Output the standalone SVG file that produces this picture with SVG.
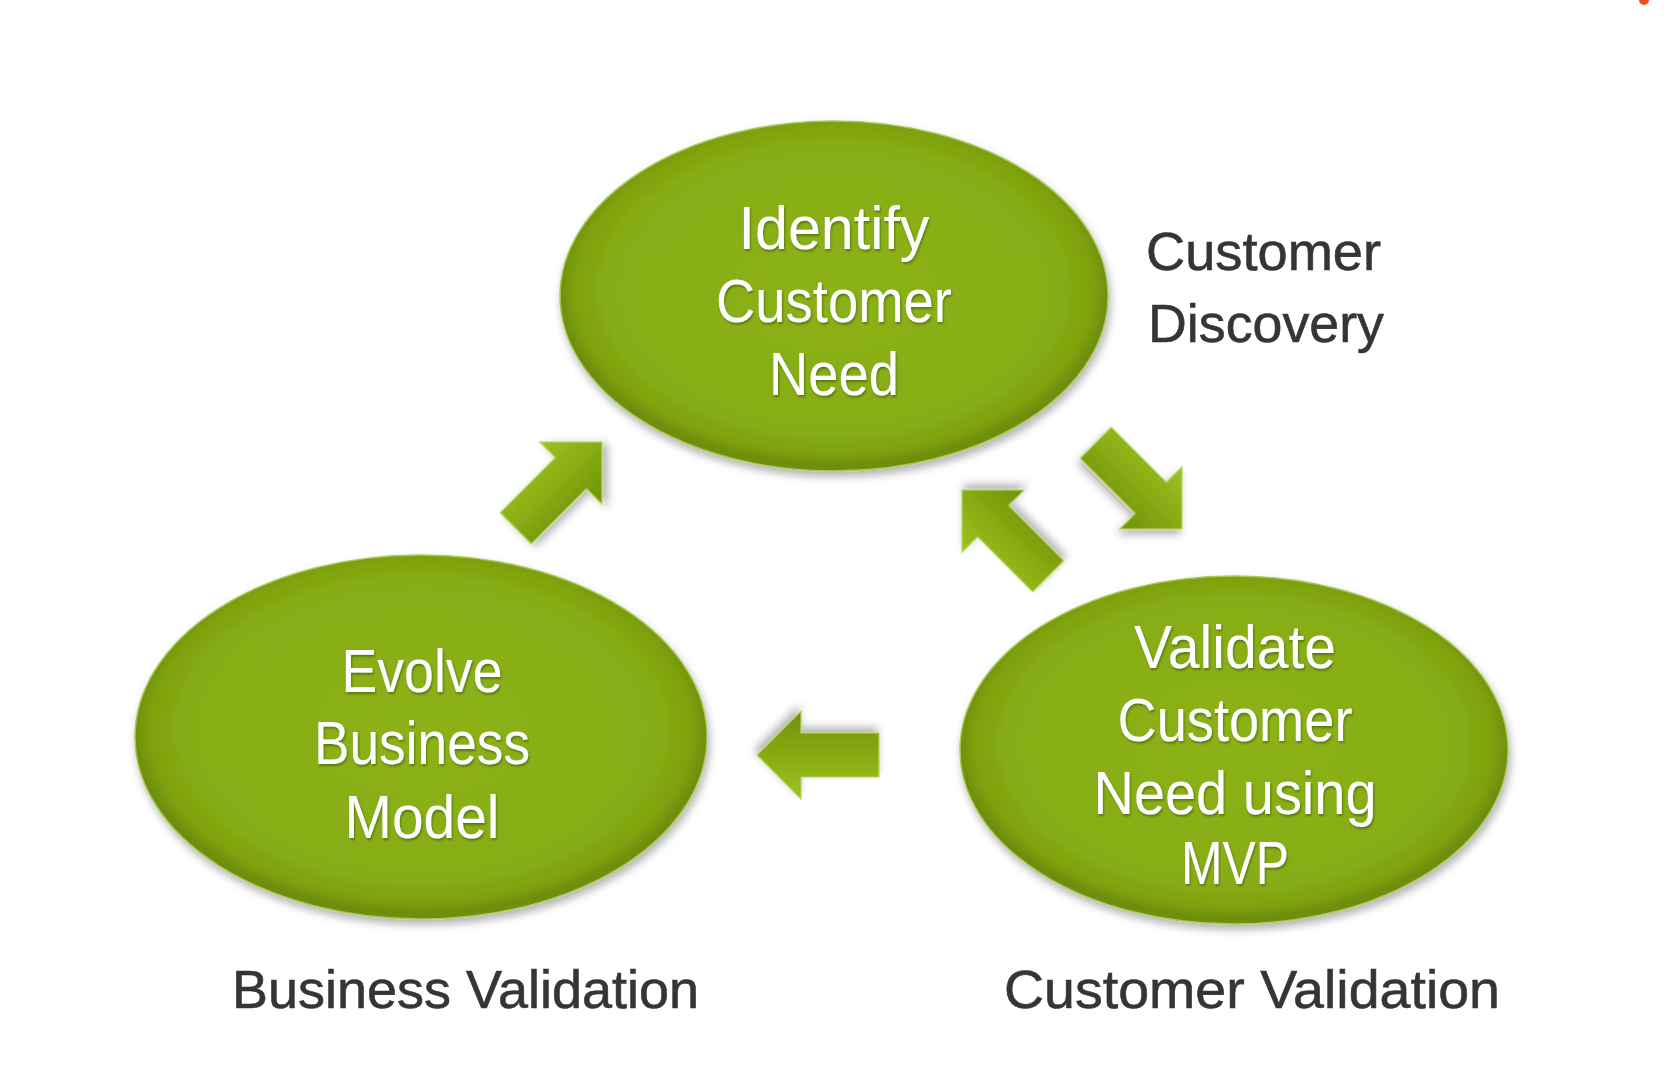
<svg xmlns="http://www.w3.org/2000/svg" width="1674" height="1080" viewBox="0 0 1674 1080">
  <defs>
    <radialGradient id="ellFill" cx="50%" cy="48%" r="50%">
      <stop offset="0%" stop-color="#8bb215"/>
      <stop offset="82%" stop-color="#87ad13"/>
      <stop offset="95%" stop-color="#7da10f"/>
      <stop offset="100%" stop-color="#6e8f0b"/>
    </radialGradient>
    <linearGradient id="arrFill" x1="0" y1="0" x2="0" y2="1">
      <stop offset="0%" stop-color="#9cc423"/>
      <stop offset="50%" stop-color="#86ab12"/>
      <stop offset="100%" stop-color="#6f900b"/>
    </linearGradient>
    <filter id="shadow" x="-10%" y="-10%" width="125%" height="130%">
      <feDropShadow dx="2" dy="5" stdDeviation="4" flood-color="#000" flood-opacity="0.3"/>
    </filter>
    <filter id="tshadow" x="-5%" y="-5%" width="115%" height="125%">
      <feDropShadow dx="1" dy="2" stdDeviation="1" flood-color="#3d5200" flood-opacity="0.6"/>
    </filter>
    <path id="arrowShape" d="M0,0 L-44,-44 L-44,-22 L-122,-22 L-122,22 L-44,22 L-44,44 Z"/>
  </defs>
  <style>
    .ell { fill: url(#ellFill); stroke: #a9c95a; stroke-width: 1.5; filter: url(#shadow); }
    .inner { font-family: "Liberation Sans", "Open Sans", sans-serif; font-size: 62px; fill: #ffffff; text-anchor: middle; filter: url(#tshadow); }
    .label { font-family: "Liberation Sans", "Open Sans", sans-serif; font-size: 54px; fill: #353535; stroke: #353535; stroke-width: 0.6; }
    .arr { fill: url(#arrFill); stroke: #b5d65a; stroke-width: 1.2; filter: url(#shadow); }
  </style>
  <rect width="1674" height="1080" fill="#ffffff"/>
  <circle cx="1644" cy="0" r="5" fill="#e8501a"/>

  <g id="connectors">
    <use href="#arrowShape" class="arr" transform="translate(602,442) rotate(-45)"/>
    <use href="#arrowShape" class="arr" transform="translate(1182,529) rotate(45)"/>
    <use href="#arrowShape" class="arr" transform="translate(962,490) rotate(-135)"/>
    <use href="#arrowShape" class="arr" transform="translate(757,755) rotate(180)"/>
  </g>

  <g id="node-identify">
    <ellipse class="ell" cx="834" cy="296" rx="274" ry="175"/>
    <text class="inner" x="834" y="249" textLength="191" lengthAdjust="spacingAndGlyphs">Identify</text>
    <text class="inner" x="834" y="322" textLength="236" lengthAdjust="spacingAndGlyphs">Customer</text>
    <text class="inner" x="834" y="395" textLength="130" lengthAdjust="spacingAndGlyphs">Need</text>
  </g>

  <g id="node-evolve">
    <ellipse class="ell" cx="421" cy="737" rx="286" ry="182"/>
    <text class="inner" x="422" y="692" textLength="161" lengthAdjust="spacingAndGlyphs">Evolve</text>
    <text class="inner" x="422" y="764" textLength="216" lengthAdjust="spacingAndGlyphs">Business</text>
    <text class="inner" x="422" y="838" textLength="155" lengthAdjust="spacingAndGlyphs">Model</text>
  </g>

  <g id="node-validate">
    <ellipse class="ell" cx="1234" cy="750" rx="274" ry="174"/>
    <text class="inner" x="1235" y="668" textLength="202" lengthAdjust="spacingAndGlyphs">Validate</text>
    <text class="inner" x="1235" y="741" textLength="235" lengthAdjust="spacingAndGlyphs">Customer</text>
    <text class="inner" x="1235" y="814" textLength="283" lengthAdjust="spacingAndGlyphs">Need using</text>
    <text class="inner" x="1235" y="884" textLength="108" lengthAdjust="spacingAndGlyphs">MVP</text>
  </g>

  <g id="labels">
    <text class="label" x="1146" y="270" textLength="235" lengthAdjust="spacingAndGlyphs">Customer</text>
    <text class="label" x="1148" y="342" textLength="236" lengthAdjust="spacingAndGlyphs">Discovery</text>
    <text class="label" x="232" y="1008" textLength="467" lengthAdjust="spacingAndGlyphs">Business Validation</text>
    <text class="label" x="1004" y="1008" textLength="496" lengthAdjust="spacingAndGlyphs">Customer Validation</text>
  </g>
</svg>
